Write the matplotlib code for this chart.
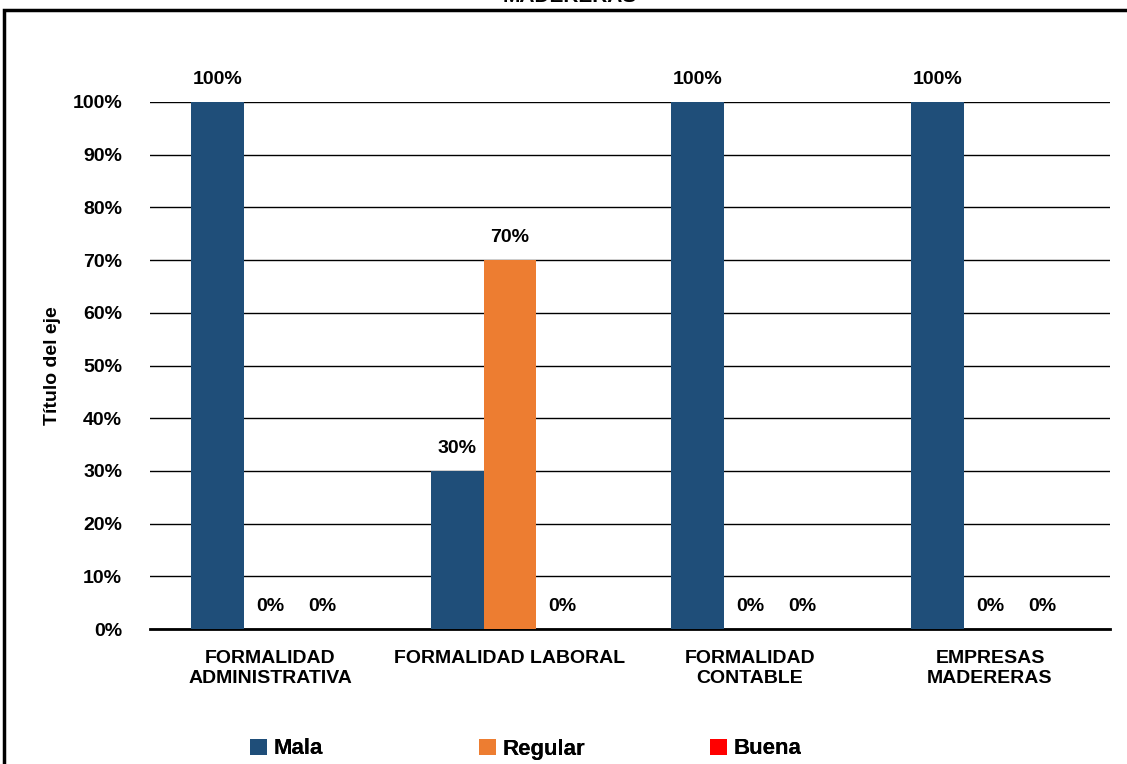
import matplotlib
matplotlib.use("Agg")
import matplotlib.pyplot as plt
import numpy as np
from matplotlib.patches import Rectangle

plt.rcParams["font.family"] = ["Liberation Sans", "DejaVu Sans"]
plt.rcParams["font.weight"] = "bold"

categories = ["FORMALIDAD\nADMINISTRATIVA", "FORMALIDAD LABORAL",
              "FORMALIDAD\nCONTABLE", "EMPRESAS\nMADERERAS"]
series = ["Mala", "Regular", "Buena"]
mala = [1.00, 0.30, 1.00, 1.00]
regular = [0.00, 0.70, 0.00, 0.00]
buena = [0.00, 0.00, 0.00, 0.00]
yticks = [0, 0.1, 0.2, 0.3, 0.4, 0.5, 0.6, 0.7, 0.8, 0.9, 1.0]

colors = ["#1F4E79", "#ED7D31", "#FF0000"]

W, H = 1127, 764
fig = plt.figure(figsize=(W / 100, H / 100), dpi=100)
ax = fig.add_axes([150 / W, (H - 629) / H, 960 / W, 527 / H])

x = np.arange(len(categories))
bw = 0.22
values = [mala, regular, buena]
handles = []
for i, (name, vals, col) in enumerate(zip(series, values, colors)):
    pos = x + (i - 1) * bw
    b = ax.bar(pos, vals, width=bw, color=col, label=name, zorder=3)
    handles.append(b)
    for p, v in zip(pos, vals):
        if v == 0 and name == "Mala":
            continue
        ax.annotate(f"{v * 100:.0f}%", (p, v), xytext=(0, 10), textcoords="offset points",
                    ha="center", va="bottom", fontsize=14, fontweight="bold")

ax.set_xlim(-0.5, len(categories) - 0.5)
ax.set_ylim(0, 1.0)
ax.set_yticks(yticks)
ax.set_yticklabels([f"{t * 100:.0f}%" for t in yticks], fontsize=14, fontweight="bold")
ax.set_xticks(x)
ax.set_xticklabels(categories, fontsize=14, fontweight="bold", linespacing=1.25)
ax.tick_params(axis="both", length=0)
ax.tick_params(axis="y", pad=20)
ax.tick_params(axis="x", pad=15)
ax.grid(axis="y", color="black", linewidth=1.0, zorder=0)
for s in ["top", "right", "left"]:
    ax.spines[s].set_visible(False)
ax.spines["bottom"].set_linewidth(2)
ax.set_ylabel("Título del eje", fontsize=14, fontweight="bold", labelpad=8)

# legend entries placed individually, as in the original layout
leg_x = [250, 479, 710]
for h, name, lx in zip(handles, series, leg_x):
    lg = fig.legend([h], [name], loc="center left", bbox_to_anchor=(lx / W, (H - 749) / H),
                    frameon=False, handlelength=0.75, handleheight=0.75, handletextpad=0.3,
                    borderpad=0, borderaxespad=0, prop={"weight": "bold", "size": 16})
    fig.add_artist(lg)

# outer chart frame (cut off by the image edge)
fig.patches.append(Rectangle((4 / W, -0.1), 1.2, 1 - 10 / H + 0.1, transform=fig.transFigure,
                             fill=False, edgecolor="black", linewidth=2.5, clip_on=False))
fig.text(0.506, 1 - 6 / H, "MADERERAS", ha="center", va="bottom",
         fontsize=15, fontweight="bold")

plt.savefig("out.png", dpi=100)
